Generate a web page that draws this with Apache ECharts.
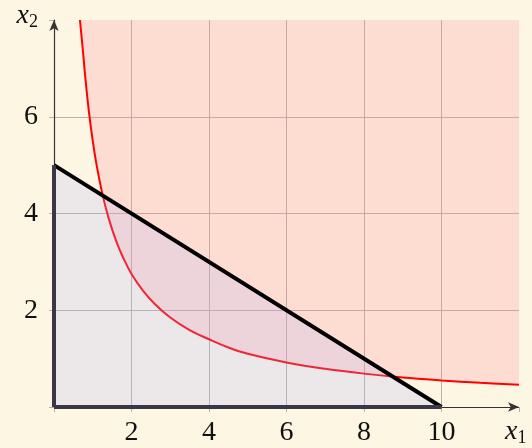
<!DOCTYPE html>
<html>
<head>
<meta charset="utf-8">
<script src="https://cdn.jsdelivr.net/npm/echarts@6/dist/echarts.min.js"></script>
<style>
  html, body { margin: 0; padding: 0; background: #fdf6e3; }
  #chart { width: 532px; height: 448px; }
</style>
</head>
<body>
<div id="chart"></div>
<script>
// tick labels
const xTicks = [2, 4, 6, 8, 10]
const yTicks = [2, 4, 6]

// red curve (boundary of the red region)
const curveX = [0.67, 0.75, 0.8, 0.9, 1.0, 1.1, 1.25, 1.4, 1.6, 1.8, 2.0, 2.3, 2.6, 3.0, 3.5, 4, 4.5, 5, 6, 7, 8, 9, 10, 11, 12]
const curveY = [8.0, 7.33, 6.88, 6.11, 5.5, 5.0, 4.4, 3.93, 3.44, 3.06, 2.75, 2.4, 2.13, 1.85, 1.59, 1.4, 1.23, 1.1, 0.92, 0.79, 0.69, 0.61, 0.55, 0.5, 0.46]

// feasible triangle corners
const triX = [0, 0, 10]
const triY = [0, 5, 0]

const serif = 'Liberation Serif'
const gridGrey = '#b9b2a8'

const chart = echarts.init(document.getElementById('chart'))

const curve = curveX.map((x, i) => [x, curveY[i]])
const hyp = [[triX[1], triY[1]], [triX[2], triY[2]]]
const leftEdge = [[triX[0], triY[0]], [triX[1], triY[1]]]
const bottomEdge = [[triX[0], triY[0]], [triX[2], triY[2]]]

const subName = (sub) => ({
  align: sub === 1 ? 'left' : 'right',
  verticalAlign: sub === 1 ? 'top' : 'middle',
  rich: {
    i: { fontFamily: serif, fontStyle: 'italic', fontSize: 28, color: '#111' },
    s: { fontFamily: serif, fontSize: 18, color: '#111', padding: [12, 0, 0, 0] }
  }
})

const option = {
  backgroundColor: '#fdf6e3',
  animation: false,
  grid: { left: 54, right: 13, top: 20, bottom: 41 },
  xAxis: {
    type: 'value',
    min: 0, max: 12, interval: 2,
    name: '{i|x}{s|1}',
    nameLocation: 'end',
    nameGap: -14,
    nameTextStyle: Object.assign(subName(1), { padding: [10, 0, 0, 0] }),
    axisLine: { lineStyle: { color: '#333', width: 1.2 }, symbol: ['none', 'arrow'], symbolSize: [7, 11] },
    axisTick: { show: true, length: 5, lineStyle: { color: gridGrey } },
    axisLabel: {
      fontFamily: serif, fontSize: 28, color: '#111', margin: 12,
      formatter: v => xTicks.includes(v) ? String(v) : ''
    },
    splitLine: { show: true, showMinLine: false, showMaxLine: false, lineStyle: { color: gridGrey, width: 1 } }
  },
  yAxis: {
    type: 'value',
    min: 0, max: 8, interval: 2,
    name: '{i|x}{s|2}',
    nameLocation: 'end',
    nameGap: 0,
    nameTextStyle: Object.assign(subName(2), { padding: [0, 16, 8, 0] }),
    axisLine: { lineStyle: { color: '#333', width: 1.2 }, symbol: ['none', 'arrow'], symbolSize: [7, 11] },
    axisTick: { show: true, length: 5, lineStyle: { color: gridGrey } },
    axisLabel: {
      fontFamily: serif, fontSize: 28, color: '#111', margin: 16,
      formatter: v => yTicks.includes(v) ? String(v) : ''
    },
    splitLine: { show: true, showMinLine: false, showMaxLine: false, lineStyle: { color: gridGrey, width: 1 } }
  },
  series: [
    {
      // red region above the curve
      type: 'line',
      data: curve,
      showSymbol: false,
      smooth: 0.4,
      lineStyle: { color: '#ff0000', width: 2 },
      areaStyle: { origin: 'end', color: 'rgba(255,140,150,0.33)' },
      z: 3
    },
    {
      // triangle fill + hypotenuse
      type: 'line',
      data: hyp,
      showSymbol: false,
      lineStyle: { color: '#000', width: 4 },
      areaStyle: { color: 'rgba(175,180,255,0.3)' },
      z: 4
    },
    {
      type: 'line',
      data: leftEdge,
      showSymbol: false,
      lineStyle: { color: '#3a3848', width: 4 },
      z: 5
    },
    {
      type: 'line',
      data: bottomEdge,
      showSymbol: false,
      lineStyle: { color: '#3a3848', width: 4 },
      z: 5
    }
  ]
}

chart.setOption(option)
</script>
</body>
</html>
